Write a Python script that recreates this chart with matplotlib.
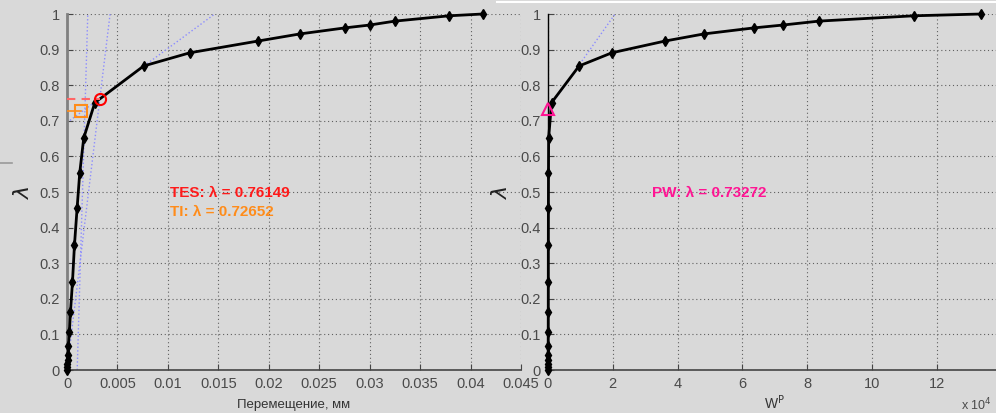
import numpy as np
import matplotlib
matplotlib.use('Agg')
import matplotlib.pyplot as plt
from matplotlib.lines import Line2D

plt.rcParams['font.family'] = ['Liberation Sans', 'DejaVu Sans']

# load factor values (same steps for both curves)
lam = [0, 0.008, 0.017, 0.028, 0.042, 0.068, 0.108, 0.162, 0.246, 0.351,
       0.454, 0.553, 0.652, 0.751, 0.854, 0.891, 0.924, 0.944, 0.961,
       0.969, 0.980, 0.995, 1.0]
disp = [0, 0.00002, 0.00004, 0.00007, 0.0001, 0.00014, 0.00024, 0.00034,
        0.00054, 0.00074, 0.0010, 0.00126, 0.00166, 0.00276, 0.0076,
        0.01217, 0.01892, 0.02308, 0.02755, 0.0300, 0.0325, 0.0379, 0.0412]
wp = [0, 0.002, 0.003, 0.004, 0.005, 0.006, 0.007, 0.008, 0.009, 0.01,
      0.012, 0.015, 0.02, 0.11, 0.96, 1.97, 3.61, 4.81, 6.36, 7.25, 8.36,
      11.3, 13.37]

# guide lines (left plot)
lineA_x, lineA_y = [0.00101, 0.00206], [0.0, 1.0]
lineB_x, lineB_y = [0.0, 0.00427], [0.0, 1.0]
lineC_x, lineC_y = [0.0, 0.01464], [0.695, 1.0]
# guide line (right plot)
lineD_x, lineD_y = [0.0, 2.07], [0.7327, 1.0]

tes_x, tes_lam = 0.00325, 0.76149
ti_x, ti_lam = 0.0014, 0.72652
pw_x, pw_lam = 0.0, 0.73272

xt_left = [0, 0.005, 0.01, 0.015, 0.02, 0.025, 0.03, 0.035, 0.04, 0.045]
xt_left_lbl = ['0', '0.005', '0.01', '0.015', '0.02', '0.025', '0.03',
               '0.035', '0.04', '0.045']
xt_right = [0, 2, 4, 6, 8, 10, 12]
yt = [0, 0.1, 0.2, 0.3, 0.4, 0.5, 0.6, 0.7, 0.8, 0.9, 1.0]
yt_lbl = ['0', '0.1', '0.2', '0.3', '0.4', '0.5', '0.6', '0.7', '0.8',
          '0.9', '1']

bg = '#d9d9d9'
lblc = '#4a4a4a'
gridc = '#606060'
blue = '#8c8cff'

fig = plt.figure(figsize=(9.96, 4.13), dpi=100, facecolor=bg)
W, H = 996.0, 413.0
ax1 = fig.add_axes([67 / W, 43 / H, 454 / W, 356 / H])
ax2 = fig.add_axes([548 / W, 43 / H, 453.6 / W, 356 / H])


def style(ax, yspine_c, yspine_w, pad):
    ax.set_facecolor('none')
    ax.set_ylim(0, 1)
    ax.set_yticks(yt)
    ax.set_yticklabels(yt_lbl)
    ax.spines['top'].set_visible(False)
    ax.spines['right'].set_visible(False)
    ax.spines['left'].set_color(yspine_c)
    ax.spines['left'].set_linewidth(yspine_w)
    ax.spines['bottom'].set_color('#454545')
    ax.spines['bottom'].set_linewidth(1.2)
    ax.tick_params(direction='in', length=4, width=0.8, colors='#454545',
                   labelcolor=lblc, labelsize=10.5, pad=5)
    ax.grid(True, color=gridc, linestyle=(0, (1, 2.5)), linewidth=0.8)
    ax.set_ylabel(r'$\lambda$', fontsize=16, color='#222222', labelpad=pad)


style(ax1, '#808080', 2.0, 4)
style(ax2, '#000000', 1.0, 6)

# left plot
ax1.set_xlim(0, 0.045)
ax1.set_xticks(xt_left)
ax1.set_xticklabels(xt_left_lbl)
ax1.plot(lineA_x, lineA_y, color=blue, linestyle=':', lw=1)
ax1.plot(lineB_x, lineB_y, color=blue, linestyle=':', lw=1)
ax1.plot(lineC_x, lineC_y, color=blue, linestyle=':', lw=1)
ax1.plot(disp, lam, color='black', lw=2, marker='d', markersize=5,
         clip_on=False, zorder=3)
ax1.plot([0, tes_x], [tes_lam, tes_lam], color='#ff6666', lw=1.5,
         linestyle=(0, (4, 3)), zorder=4)
ax1.plot([0, ti_x], [ti_lam, ti_lam], color='#ff8c1a', lw=1.2, zorder=4)
ax1.plot([tes_x], [tes_lam], marker='o', markersize=8, mfc='none',
         mec='#ff0000', mew=1.5, zorder=5)
ax1.plot([ti_x], [ti_lam], marker='s', markersize=8, mfc='none',
         mec='#ff8c1a', mew=1.5, zorder=5)
ax1.text(0.0102, 0.497, 'TES: \u03bb = %.5f' % tes_lam, color='#ff1a1a',
         fontsize=11, fontweight='bold', va='center')
ax1.text(0.0102, 0.444, 'TI: \u03bb = %.5f' % ti_lam, color='#ff8c1a',
         fontsize=11, fontweight='bold', va='center')
ax1.set_xlabel('Перемещение, мм', fontsize=9.5, color='#333333', labelpad=6)

# right plot
ax2.set_xlim(0, 14)
ax2.set_xticks(xt_right)
ax2.plot(lineD_x, lineD_y, color=blue, linestyle=':', lw=1)
ax2.plot(wp, lam, color='black', lw=2, marker='d', markersize=5,
         clip_on=False, zorder=3)
ax2.plot([pw_x], [pw_lam], marker='^', markersize=9, mfc='none',
         mec='#ff1493', mew=1.5, zorder=5, clip_on=False)
ax2.text(3.2, 0.497, 'PW: \u03bb = %.5f' % pw_lam, color='#ff1493',
         fontsize=11, fontweight='bold', va='center')
ax2.set_xlabel(r'W$^{\mathrm{P}}$', fontsize=10, color='#333333', labelpad=2)
fig.text(961 / W, (413 - 405) / H, r'x 10$^{4}$', fontsize=9, color=lblc,
         va='center', ha='left')

# window artefacts
fig.add_artist(Line2D([0, 12 / W], [1 - 163 / H, 1 - 163 / H],
                      color='#9a9a9a', lw=1.2))
fig.add_artist(Line2D([497 / W, 1], [1 - 2 / H, 1 - 2 / H],
                      color='white', lw=1.5))

fig.savefig('out.png', dpi=100, facecolor=bg)
